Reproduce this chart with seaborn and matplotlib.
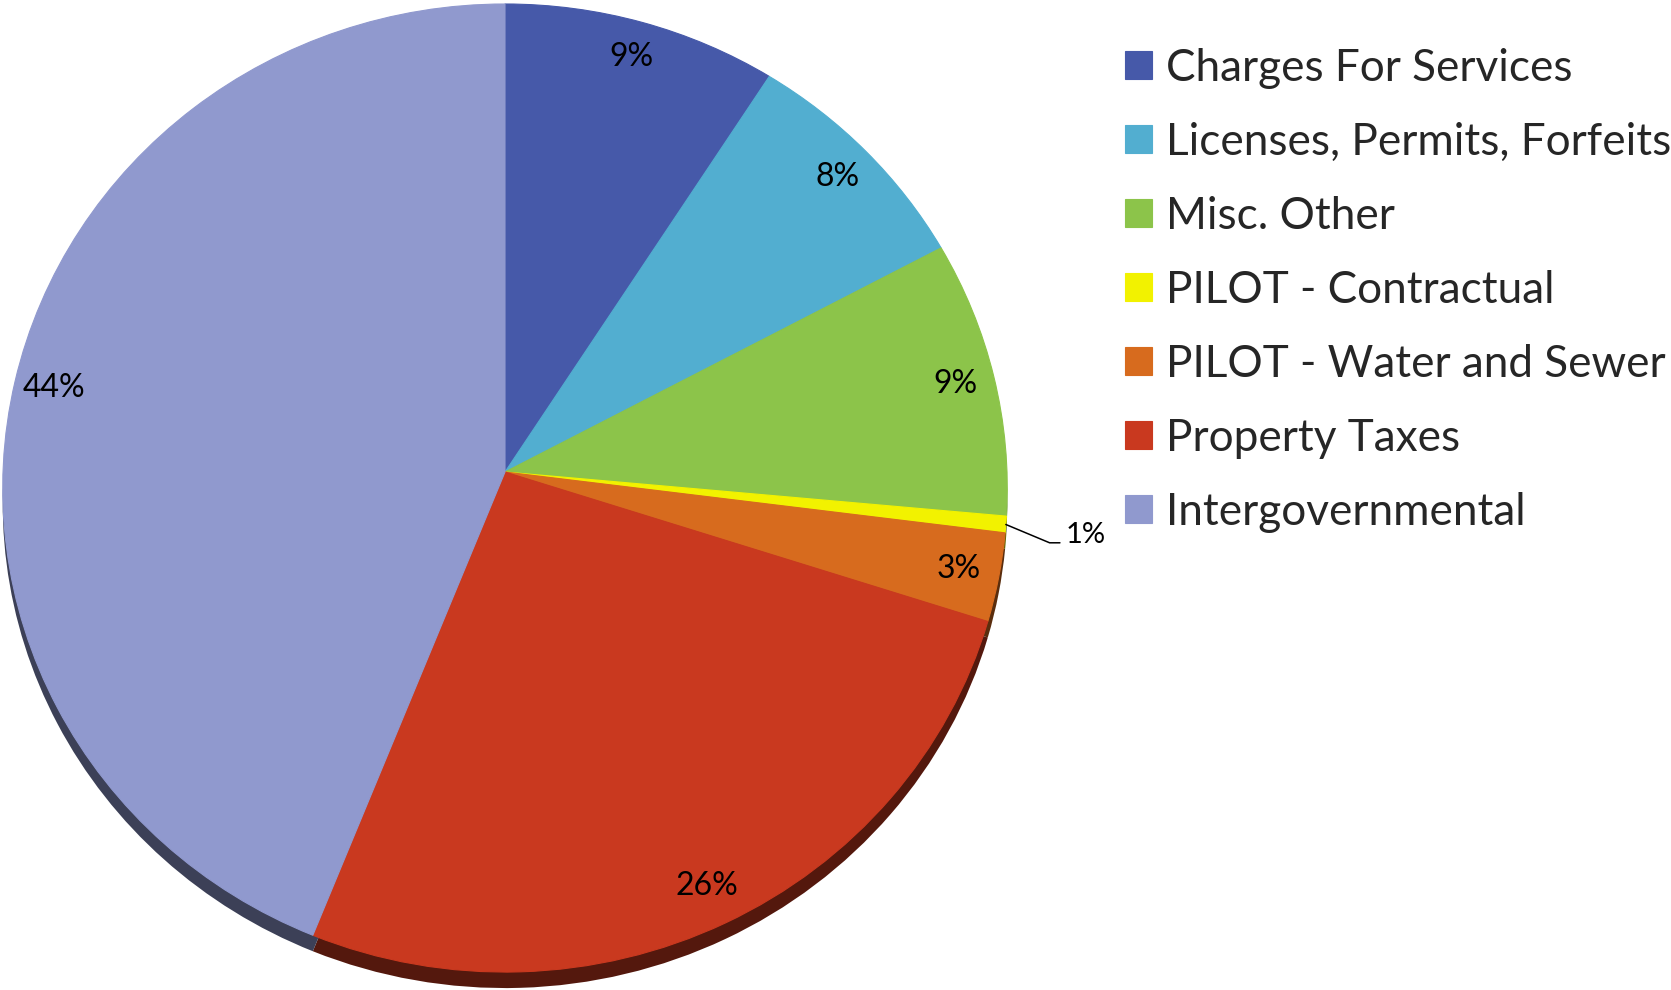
import numpy as np
import matplotlib
matplotlib.use("Agg")
import matplotlib.pyplot as plt
import matplotlib.colors as mcolors
from matplotlib.transforms import Transform, Affine2D
import seaborn as sns

# ---------------- data ----------------
categories = ["Charges For Services", "Licenses, Permits, Forfeits", "Misc. Other",
              "PILOT - Contractual", "PILOT - Water and Sewer", "Property Taxes",
              "Intergovernmental"]
shares = [9.1, 8.1, 9.25, 0.55, 2.95, 26.1, 43.95]
colors = ["#4659A9", "#52AED0", "#8CC44A", "#F2F200", "#D76B1E", "#C9391F", "#9099CE"]

# ---------------- style ----------------
sns.set_theme(style="white")
plt.rcParams["font.family"] = ["Lato", "DejaVu Sans"]

W, H = 1671, 990
fig = plt.figure(figsize=(W / 100, H / 100), dpi=100)
fig.patch.set_facecolor("white")
ax = fig.add_axes([0, 0, 1, 1])


class Tilt(Transform):
    """Simple perspective tilt: the far (upper) half appears a bit smaller."""
    input_dims = output_dims = 2
    is_separable = False
    has_inverse = False

    def __init__(self, k):
        super().__init__()
        self.k = k

    def transform_non_affine(self, values):
        v = np.asarray(values, dtype=float)
        shp = v.shape
        v = v.reshape(-1, 2)
        w = 1.0 + self.k * v[:, 1]
        out = np.column_stack([v[:, 0] / w, v[:, 1] / w])
        return out.reshape(shp)


tilt = Tilt(0.0331)
cx, cy, a, b = 505.0, 472.0, 502.0, 483.5   # pixel geometry of the pie face


def darken(c, f):
    r, g, bb = mcolors.to_rgb(c)
    return (r * f, g * f, bb * f)


side_colors = [darken(c, 0.42) for c in colors]

# depth (side wall) of the 3D pie
side_wedges, _ = ax.pie(shares, colors=side_colors, startangle=90, counterclock=False,
                        radius=1, wedgeprops=dict(linewidth=0))
# top face
wedges, texts, autotexts = ax.pie(shares, colors=colors, startangle=90, counterclock=False,
                                  radius=1, autopct=lambda p: f"{p:.0f}%", pctdistance=0.92,
                                  textprops=dict(fontsize=23, color="black"),
                                  wedgeprops=dict(linewidth=0.8))

ax.set_aspect("auto")
ax.set_xlim(-cx / a, (W - cx) / a)
ax.set_ylim((cy - H) / b, cy / b)
ax.axis("off")

face_tr = tilt + ax.transData
side_tr = tilt + ax.transData + Affine2D().translate(0, -16)
for w in side_wedges:
    w.set_transform(side_tr)
    w.set_zorder(1)
for w in wedges:
    w.set_transform(face_tr)
    w.set_edgecolor(w.get_facecolor())
    w.set_zorder(2)
for t in autotexts:
    t.set_transform(face_tr)
    t.set_zorder(3)
    t.set_ha("center")
    t.set_va("center")

# small slice label outside with leader line
small = int(np.argmin(shares))
autotexts[small].set_visible(False)
cum = np.cumsum([0] + shares)
total = float(np.sum(shares))
mid = np.deg2rad(90 - 360 * (cum[small] + shares[small] / 2) / total)
ax.annotate(f"{100 * shares[small] / total:.0f}%",
            xy=(np.cos(mid), np.sin(mid)), xycoords=face_tr,
            xytext=(1066, H - 535), textcoords="figure pixels",
            ha="left", va="center", fontsize=21, color="black", zorder=4,
            arrowprops=dict(arrowstyle="-", color="black", lw=1.1,
                            shrinkA=2, shrinkB=0, relpos=(0, 0.2),
                            connectionstyle="angle,angleA=0,angleB=-22.7,rad=0"))

# ---------------- legend ----------------
probe = fig.text(0, 0, categories[1], fontsize=30)
fig.canvas.draw()
wpx = probe.get_window_extent().width
probe.remove()
leg_fs = 30 * 504.0 / wpx
fs_px = leg_fs * 100 / 72.0

box = 27.0
target_pitch = 74.0
first_center_top = 65.0
handle_left = 1125.0
text_left = 1166.0


def make_legend(spacing, anchor):
    return fig.legend(wedges, categories, loc="upper left", bbox_to_anchor=anchor,
                      bbox_transform=fig.transFigure, frameon=False, fontsize=leg_fs,
                      handlelength=box / fs_px, handleheight=box / fs_px,
                      handletextpad=(text_left - handle_left - box) / fs_px,
                      borderpad=0, borderaxespad=0, labelspacing=spacing)


spacing = 0.5
anchor = (handle_left / W, 1 - 20 / H)
leg = make_legend(spacing, anchor)
fig.canvas.draw()
ts = leg.get_texts()
y0 = ts[0].get_window_extent().y0
y1 = ts[1].get_window_extent().y0
pitch = y0 - y1
spacing = spacing + (target_pitch - pitch) / fs_px
leg.remove()
leg = make_legend(spacing, anchor)
fig.canvas.draw()
hb = leg.legend_handles[0].get_window_extent()
cur_center = (hb.y0 + hb.y1) / 2
want_center = H - first_center_top
dy = want_center - cur_center
dx = handle_left - hb.x0
leg.remove()
anchor = (anchor[0] + dx / W, anchor[1] + dy / H)
leg = make_legend(spacing, anchor)

fig.savefig("out.png", dpi=100, facecolor="white")
